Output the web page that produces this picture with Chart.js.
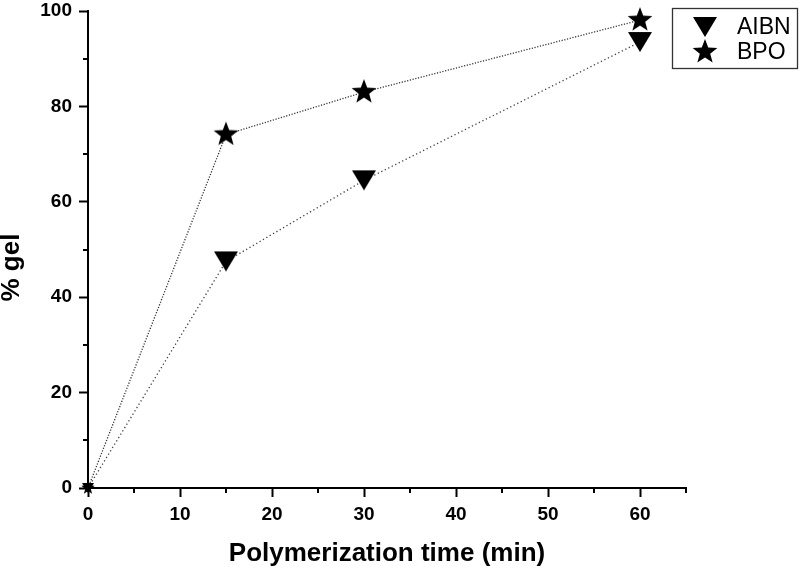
<!DOCTYPE html>
<html><head><meta charset="utf-8">
<script src="https://cdn.jsdelivr.net/npm/chart.js@4/dist/chart.umd.min.js"></script>
<style>html,body{margin:0;padding:0;background:#fff}#wrap{width:800px;height:569px}</style>
</head><body><div id="wrap"><canvas id="c" width="800" height="569"></canvas></div>
<script>
// ---- data ----
const seriesLabels = ['AIBN', 'BPO'];
const timeMin = [0, 15, 30, 60];
const aibnGel = [0, 47.5, 64.5, 93.5];
const bpoGel = [0, 74.1, 83.0, 98.1];
const xTitle = 'Polymerization time (min)';
const yTitle = '% gel';

// ---- markers ----
function makeStar(R) {
  const s = Math.ceil(R * 2 + 2);
  const c = document.createElement('canvas'); c.width = c.height = s;
  const g = c.getContext('2d'); const cx = s / 2, cy = s / 2, r = R * 0.42;
  g.beginPath();
  for (let i = 0; i < 10; i++) {
    const a = -Math.PI / 2 + i * Math.PI / 5, rr = i % 2 ? r : R;
    g.lineTo(cx + rr * Math.cos(a), cy + rr * Math.sin(a));
  }
  g.closePath(); g.fillStyle = '#000'; g.fill();
  return c;
}
function makeTri(w, h) {
  const c = document.createElement('canvas');
  c.width = Math.ceil(w) + 2; c.height = Math.ceil(h) + 2;
  const g = c.getContext('2d');
  g.beginPath(); g.moveTo(1, 1); g.lineTo(w + 1, 1); g.lineTo(w / 2 + 1, h + 1); g.closePath();
  g.fillStyle = '#000'; g.fill();
  return c;
}
const starBig = makeStar(13), starSmall = makeStar(7);
const triBig = makeTri(24, 20), triSmall = makeTri(12, 10);
const markers = [[triBig, triSmall], [starBig, starSmall]];

const FONT = "'Liberation Sans', Arial, Helvetica, sans-serif";

const minorTicks = {
  id: 'minorTicks',
  afterDraw(chart) {
    const ctx = chart.ctx, xs = chart.scales.x, ys = chart.scales.y;
    ctx.save(); ctx.strokeStyle = '#000'; ctx.lineWidth = 2;
    xs.ticks.filter(t => t.value % 10 !== 0).forEach(t => {
      const p = Math.round(xs.getPixelForValue(t.value));
      ctx.beginPath(); ctx.moveTo(p, xs.top); ctx.lineTo(p, xs.top + 5); ctx.stroke();
    });
    ys.ticks.filter(t => t.value % 20 !== 0).forEach(t => {
      const p = Math.round(ys.getPixelForValue(t.value));
      ctx.beginPath(); ctx.moveTo(ys.right - 5, p); ctx.lineTo(ys.right, p); ctx.stroke();
    });
    ctx.restore();
  }
};

const boxLegend = {
  id: 'boxLegend',
  afterDraw(chart) {
    const ctx = chart.ctx;
    ctx.save();
    ctx.strokeStyle = '#333'; ctx.lineWidth = 1.3;
    ctx.strokeRect(672.5, 8.5, 125, 60);
    ctx.font = '23px ' + FONT; ctx.fillStyle = '#000'; ctx.textBaseline = 'middle'; ctx.textAlign = 'left';
    const rows = [27, 52];
    chart.data.datasets.forEach((ds, i) => {
      const m = markers[i][0];
      ctx.drawImage(m, 705 - m.width / 2, rows[i] - m.height / 2);
      ctx.fillText(ds.label, 737, rows[i] + 1);
    });
    ctx.restore();
  }
};

const mk = (i) => (ctx) => ctx.dataIndex === 0 ? markers[i][1] : markers[i][0];

new Chart(document.getElementById('c'), {
  type: 'line',
  data: {
    datasets: [
      { label: seriesLabels[0], data: timeMin.map((t, i) => ({ x: t, y: aibnGel[i] })),
        borderColor: '#444', borderWidth: 1.3, borderDash: [1.3, 2.6], pointStyle: mk(0),
        backgroundColor: '#000', clip: false, tension: 0 },
      { label: seriesLabels[1], data: timeMin.map((t, i) => ({ x: t, y: bpoGel[i] })),
        borderColor: '#333', borderWidth: 1.3, borderDash: [1.2, 1.6], pointStyle: mk(1),
        backgroundColor: '#000', clip: false, tension: 0 }
    ]
  },
  options: {
    responsive: false, animation: false, events: [],
    layout: { padding: { top: 11, right: 114, bottom: 0, left: 0 }, autoPadding: false },
    plugins: { legend: { display: false }, tooltip: { enabled: false } },
    scales: {
      x: {
        type: 'linear', min: 0, max: 65,
        afterFit(s) { s.height = 81; s.paddingLeft = 0; s.paddingRight = 0; },
        border: { display: true, color: '#000', width: 2 },
        grid: { drawOnChartArea: false, drawTicks: true, tickLength: 9, tickWidth: 2,
                tickColor: (c) => (c.tick && c.tick.value % 10 === 0) ? '#000' : 'rgba(0,0,0,0)' },
        ticks: { stepSize: 5, autoSkip: false, maxRotation: 0, padding: 6, color: '#000',
                 font: { family: FONT, size: 19, weight: 'bold' },
                 callback: (v) => v % 10 === 0 ? v : '' },
        title: { display: true, text: xTitle, color: '#000', padding: { top: 0, bottom: 0 },
                 font: { family: FONT, size: 26, weight: 'bold' } }
      },
      y: {
        type: 'linear', min: 0, max: 100,
        afterFit(s) { s.width = 88; s.paddingTop = 0; s.paddingBottom = 0; },
        border: { display: true, color: '#000', width: 2 },
        grid: { drawOnChartArea: false, drawTicks: true, tickLength: 9, tickWidth: 2,
                tickColor: (c) => (c.tick && c.tick.value % 20 === 0) ? '#000' : 'rgba(0,0,0,0)' },
        ticks: { stepSize: 10, autoSkip: false, padding: 7, color: '#000',
                 font: { family: FONT, size: 19, weight: 'bold' },
                 callback: (v) => v % 20 === 0 ? v : '' },
        title: { display: true, text: yTitle + '     ', color: '#000', padding: { top: -4, bottom: 0 },
                 font: { family: FONT, size: 26, weight: 'bold' } }
      }
    }
  },
  plugins: [minorTicks, boxLegend]
});
</script></body></html>
